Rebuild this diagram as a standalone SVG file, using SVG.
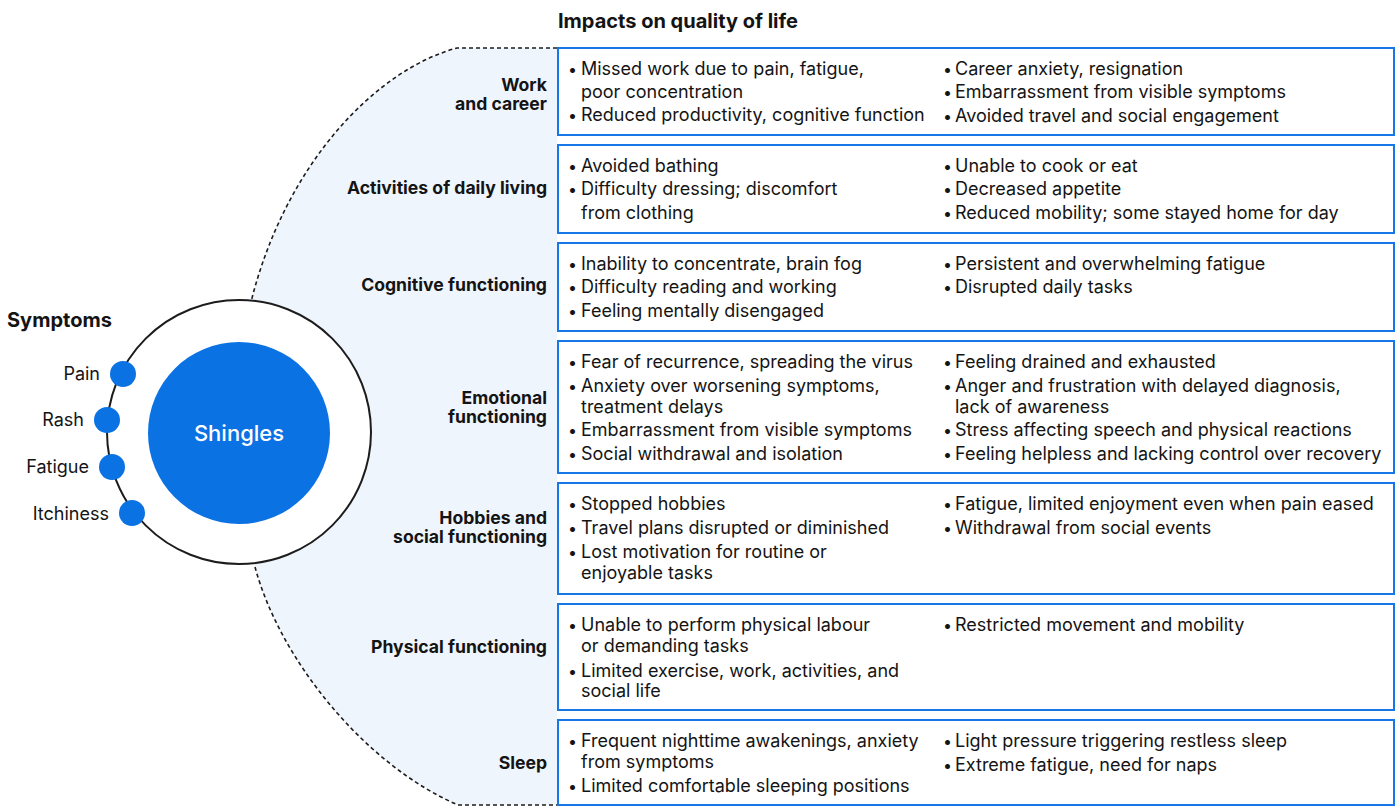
<svg xmlns="http://www.w3.org/2000/svg" width="1396" height="808" viewBox="0 0 1396 808">
  <style>
    text { font-family: Inter, "Liberation Sans", Arial, sans-serif; fill: #141414; }
    .title { font-size: 20px; font-weight: 700; }
    .sym { font-size: 18px; text-anchor: end; }
    .cat { font-size: 17.6px; font-weight: 700; text-anchor: end; }
    .item text { font-size: 18px; }
    .item .b { font-size: 16px; }
    .core { font-size: 22px; font-weight: 500; fill: #ffffff; text-anchor: middle; }
    .box { fill: #ffffff; stroke: #1677e6; stroke-width: 2; }
    .dot { fill: #0a72e3; }
    .edge { fill: none; stroke: #1c1c1c; stroke-width: 1.6; stroke-dasharray: 4 3; }
  </style>

  <!-- light fan behind the impact list -->
  <path d="M557,48 L457,48 C375,70 285,165 251,302 L255,567 C280,660 365,765 458,805 L557,805 Z" fill="#eff5fd"/>

  <!-- dashed outline of the fan -->
  <g id="connectors">
    <path class="edge" d="M557,48 L457,48 C375,70 285,165 251,302"/>
    <path class="edge" d="M255,567 C280,660 365,765 458,805 L557,805"/>
  </g>

  <!-- headings -->
  <text class="title" x="7" y="327">Symptoms</text>
  <text class="title" x="558" y="28">Impacts on quality of life</text>

  <!-- central node with symptoms on its rim -->
  <g id="shingles">
    <circle cx="239" cy="432" r="132" fill="#ffffff" stroke="#1c1c1c" stroke-width="2"/>
    <circle cx="239" cy="433" r="91" class="dot"/>
    <text class="core" x="239" y="441">Shingles</text>
  </g>
  <g id="sym-pain">
    <circle cx="123" cy="374" r="13" class="dot"/>
    <text class="sym" x="100" y="380">Pain</text>
  </g>
  <g id="sym-rash">
    <circle cx="107" cy="420" r="13" class="dot"/>
    <text class="sym" x="84" y="426">Rash</text>
  </g>
  <g id="sym-fatigue">
    <circle cx="112" cy="467" r="13" class="dot"/>
    <text class="sym" x="89" y="473">Fatigue</text>
  </g>
  <g id="sym-itchiness">
    <circle cx="132" cy="513" r="13" class="dot"/>
    <text class="sym" x="109" y="520">Itchiness</text>
  </g>

  <!-- impact rows -->
  <g id="work">
    <text class="cat" x="547" y="91">Work</text>
    <text class="cat" x="547" y="109.5">and career</text>
    <rect class="box" x="558" y="48" width="836" height="87"/>
    <g class="item">
      <text class="b" x="568" y="75">•</text><text x="581" y="75">Missed work due to pain, fatigue,</text>
      <text x="581" y="98">poor concentration</text>
      <text class="b" x="568" y="121">•</text><text x="581" y="121">Reduced productivity, cognitive function</text>
      <text class="b" x="943" y="74.5">•</text><text x="955" y="74.5">Career anxiety, resignation</text>
      <text class="b" x="943" y="98">•</text><text x="955" y="98">Embarrassment from visible symptoms</text>
      <text class="b" x="943" y="122">•</text><text x="955" y="122">Avoided travel and social engagement</text>
    </g>
  </g>

  <g id="daily-living">
    <text class="cat" x="547" y="193.5">Activities of daily living</text>
    <rect class="box" x="558" y="145" width="836" height="88"/>
    <g class="item">
      <text class="b" x="568" y="171.5">•</text><text x="581" y="171.5">Avoided bathing</text>
      <text class="b" x="568" y="195">•</text><text x="581" y="195">Difficulty dressing; discomfort</text>
      <text x="581" y="219">from clothing</text>
      <text class="b" x="943" y="171.5">•</text><text x="955" y="171.5">Unable to cook or eat</text>
      <text class="b" x="943" y="195">•</text><text x="955" y="195">Decreased appetite</text>
      <text class="b" x="943" y="219">•</text><text x="955" y="219">Reduced mobility; some stayed home for day</text>
    </g>
  </g>

  <g id="cognitive">
    <text class="cat" x="547" y="291">Cognitive functioning</text>
    <rect class="box" x="558" y="243" width="836" height="88"/>
    <g class="item">
      <text class="b" x="568" y="269.5">•</text><text x="581" y="269.5">Inability to concentrate, brain fog</text>
      <text class="b" x="568" y="293">•</text><text x="581" y="293">Difficulty reading and working</text>
      <text class="b" x="568" y="317">•</text><text x="581" y="317">Feeling mentally disengaged</text>
      <text class="b" x="943" y="269.5">•</text><text x="955" y="269.5">Persistent and overwhelming fatigue</text>
      <text class="b" x="943" y="293">•</text><text x="955" y="293">Disrupted daily tasks</text>
    </g>
  </g>

  <g id="emotional">
    <text class="cat" x="547" y="404">Emotional</text>
    <text class="cat" x="547" y="422.5">functioning</text>
    <rect class="box" x="558" y="341" width="836" height="132"/>
    <g class="item">
      <text class="b" x="568" y="367.5">•</text><text x="581" y="367.5">Fear of recurrence, spreading the virus</text>
      <text class="b" x="568" y="391.5">•</text><text x="581" y="391.5">Anxiety over worsening symptoms,</text>
      <text x="581" y="412.5">treatment delays</text>
      <text class="b" x="568" y="436">•</text><text x="581" y="436">Embarrassment from visible symptoms</text>
      <text class="b" x="568" y="460">•</text><text x="581" y="460">Social withdrawal and isolation</text>
      <text class="b" x="943" y="367.5">•</text><text x="955" y="367.5">Feeling drained and exhausted</text>
      <text class="b" x="943" y="391.5">•</text><text x="955" y="391.5">Anger and frustration with delayed diagnosis,</text>
      <text x="955" y="412.5">lack of awareness</text>
      <text class="b" x="943" y="436">•</text><text x="955" y="436">Stress affecting speech and physical reactions</text>
      <text class="b" x="943" y="460">•</text><text x="955" y="460">Feeling helpless and lacking control over recovery</text>
    </g>
  </g>

  <g id="hobbies">
    <text class="cat" x="547" y="524">Hobbies and</text>
    <text class="cat" x="547" y="542.5">social functioning</text>
    <rect class="box" x="558" y="483" width="836" height="111"/>
    <g class="item">
      <text class="b" x="568" y="510">•</text><text x="581" y="510">Stopped hobbies</text>
      <text class="b" x="568" y="534">•</text><text x="581" y="534">Travel plans disrupted or diminished</text>
      <text class="b" x="568" y="558">•</text><text x="581" y="558">Lost motivation for routine or</text>
      <text x="581" y="579">enjoyable tasks</text>
      <text class="b" x="943" y="510">•</text><text x="955" y="510">Fatigue, limited enjoyment even when pain eased</text>
      <text class="b" x="943" y="534">•</text><text x="955" y="534">Withdrawal from social events</text>
    </g>
  </g>

  <g id="physical">
    <text class="cat" x="547" y="653">Physical functioning</text>
    <rect class="box" x="558" y="604" width="836" height="106"/>
    <g class="item">
      <text class="b" x="568" y="630.5">•</text><text x="581" y="630.5">Unable to perform physical labour</text>
      <text x="581" y="652">or demanding tasks</text>
      <text class="b" x="568" y="676.5">•</text><text x="581" y="676.5">Limited exercise, work, activities, and</text>
      <text x="581" y="697">social life</text>
      <text class="b" x="943" y="630.5">•</text><text x="955" y="630.5">Restricted movement and mobility</text>
    </g>
  </g>

  <g id="sleep">
    <text class="cat" x="547" y="769">Sleep</text>
    <rect class="box" x="558" y="720" width="836" height="85"/>
    <g class="item">
      <text class="b" x="568" y="747">•</text><text x="581" y="747">Frequent nighttime awakenings, anxiety</text>
      <text x="581" y="768">from symptoms</text>
      <text class="b" x="568" y="792">•</text><text x="581" y="792">Limited comfortable sleeping positions</text>
      <text class="b" x="943" y="747">•</text><text x="955" y="747">Light pressure triggering restless sleep</text>
      <text class="b" x="943" y="771">•</text><text x="955" y="771">Extreme fatigue, need for naps</text>
    </g>
  </g>
</svg>
